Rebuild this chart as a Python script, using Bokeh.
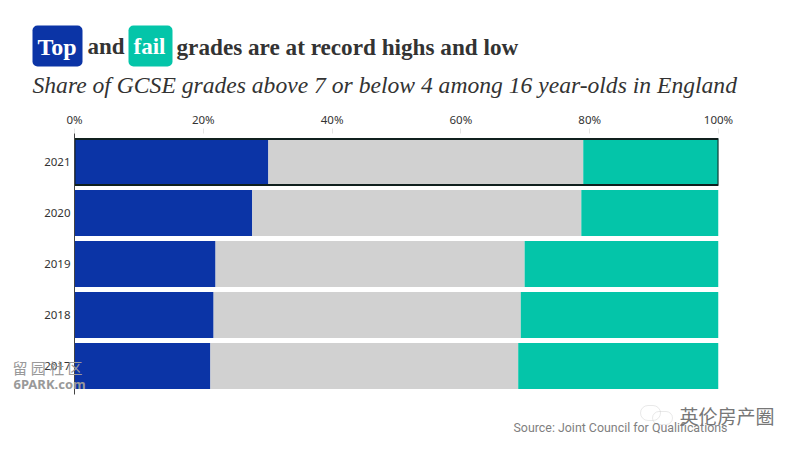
from bokeh.plotting import figure
from bokeh.layouts import column
from bokeh.models import FactorRange, Range1d, Label, BoxAnnotation, ColumnDataSource, FixedTicker
from bokeh.embed import file_html
from bokeh.resources import INLINE

years = ["2021", "2020", "2019", "2018", "2017"]
top_share = [30.1, 27.6, 21.9, 21.6, 21.1]
middle_share = [48.9, 51.1, 48.0, 47.7, 47.8]
fail_share = [21.0, 21.3, 30.1, 30.7, 31.1]
highlight_year = ["2021"]
tick_values = [0, 20, 40, 60, 80, 100]
tick_labels = ["0%", "20%", "40%", "60%", "80%", "100%"]

BLUE = "#0B34A6"
TEAL = "#04C5A9"
GREY = "#D1D1D1"
INK = "#333333"
W, H = 784, 434

p = figure(width=W, height=H, output_backend="svg", toolbar_location=None,
           x_axis_location="above", frame_align=False,
           x_range=Range1d(0, 100),
           y_range=FactorRange(factors=years[::-1], range_padding=0.024),
           min_border_left=74, min_border_right=66, min_border_top=133, min_border_bottom=40)
p.outline_line_color = None
p.grid.visible = False
p.background_fill_color = "white"

src = ColumnDataSource(dict(y=years, top=top_share, middle=middle_share, fail=fail_share))
p.hbar_stack(["top", "middle", "fail"], y="y", height=0.9, source=src,
             color=[BLUE, GREY, TEAL], line_color=None)
p.hbar(y=highlight_year, left=[0], right=[100], height=0.9,
       fill_color=None, line_color="#10201E", line_width=2)

xa = p.xaxis[0]
xa.ticker = FixedTicker(ticks=tick_values)
xa.major_label_overrides = dict(zip(tick_values, tick_labels))
xa.axis_line_color = None
xa.major_tick_in = 0
xa.major_tick_out = 5
xa.major_tick_line_color = "#E4E4E4"
xa.minor_tick_line_color = None
xa.major_label_text_font = "Noto Sans"
xa.major_label_text_font_size = "11.5px"
xa.major_label_text_color = INK
xa.major_label_standoff = 2

ya = p.yaxis[0]
ya.axis_line_color = "#444444"
ya.axis_line_width = 1
ya.major_tick_line_color = None
ya.major_tick_in = 0
ya.major_tick_out = 0
ya.minor_tick_line_color = None
ya.major_label_text_font = "Noto Sans"
ya.major_label_text_font_size = "11.5px"
ya.major_label_text_color = INK
ya.major_label_standoff = 4

# Transparent overlay: its frame covers the whole canvas, so labels are not clipped.
o = figure(width=W, height=H, output_backend="svg", toolbar_location=None,
           x_range=Range1d(0, W), y_range=Range1d(H, 0), frame_align=False,
           x_axis_location=None, y_axis_location=None,
           min_border=0, min_border_left=0, min_border_right=0, min_border_top=0, min_border_bottom=0,
           border_fill_alpha=0, background_fill_alpha=0,
           styles={"position": "absolute", "left": "0px", "top": "0px", "z-index": "10"})
o.outline_line_color = None
o.grid.visible = False


def text(s, x, y, size, font="Liberation Serif", style="normal", color=INK, baseline="middle", align="left"):
    o.add_layout(Label(x=x, y=y, x_units="canvas", y_units="canvas", text=s,
                       text_font=font, text_font_size=size, text_font_style=style,
                       text_color=color, text_baseline=baseline, text_align=align))


def box(l, r, t, b, fill=None, line=None, radius=5):
    o.add_layout(BoxAnnotation(left=l, right=r, top=t, bottom=b,
                               left_units="canvas", right_units="canvas",
                               top_units="canvas", bottom_units="canvas",
                               fill_color=fill, fill_alpha=1 if fill else 0,
                               line_color=line, line_width=1, border_radius=radius))


box(32, 82, 25, 66, fill=BLUE)
box(128, 172, 25, 66, fill=TEAL)
box(640, 660, 405, 420, line="#B5B5B5", radius=8)
box(652, 672, 411, 424, line="#B5B5B5", radius=7)

text("Top", 37, 46, "24px", style="bold", color="white")
text("and", 87, 46, "23px", style="bold")
text("fail", 133, 46, "23px", style="bold", color="white")
text("grades are at record highs and low", 176, 46, "23.2px", style="bold")
text("Share of GCSE grades above 7 or below 4 among 16 year-olds in England", 32, 84, "23.6px", style="italic")
text("Source: Joint Council for Qualifications", 513, 427, "12.4px", font="Roboto", color="#7F7F7F")
text("留 园 社 区", 12, 367, "15px", font="Noto Sans CJK SC", color="#999999")
text("6PARK.com", 13, 383, "13px", font="Noto Sans", style="bold", color="#999999")
text("英伦房产圈", 679, 415, "19px", font="Noto Sans CJK SC", color="#777777")

open("out.html", "w").write(file_html(column(p, o), INLINE))
